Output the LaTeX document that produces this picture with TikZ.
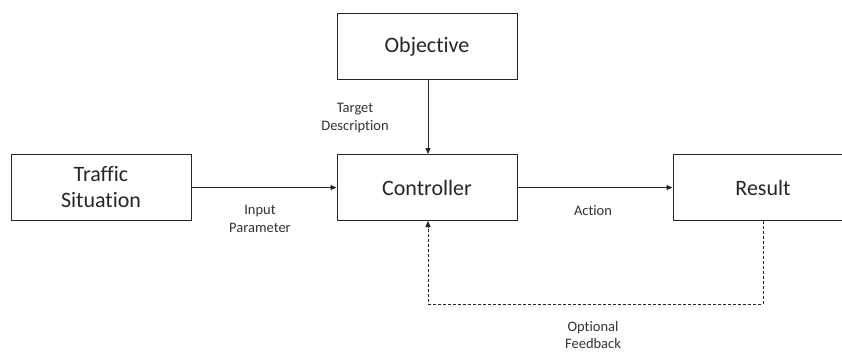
\documentclass[tikz,border=0pt]{standalone}
\usepackage{fontspec}
\setmainfont{Carlito}[Ligatures={NoCommon}]
\usetikzlibrary{arrows.meta}
\begin{document}
\begin{tikzpicture}[x=1pt,y=-1pt,
  blk/.style={draw=black!85, line width=1pt, minimum width=180pt, minimum height=66pt, inner sep=0pt, font=\fontsize{22}{26}\selectfont, text=black!85, align=center},
  lbl/.style={font=\fontsize{14.5}{17.5}\selectfont, text=black!80, align=center},
  conn/.style={draw=black!85, line width=0.9pt, -{Triangle[length=6pt,width=5pt]}},
  fb/.style={conn, dash pattern=on 3pt off 2pt}]
\useasboundingbox (0,0) rectangle (842,351);
\fill[white] (0,0) rectangle (842,351);
\begin{scope}
\clip (0,0) rectangle (842,351);
\node[blk] (traffic) at (101,187.5) {Traffic\\Situation};
\node[blk] (objective) at (427,46.5) {Objective};
\node[blk] (controller) at (427,187.5) {Controller};
\node[blk] (result) at (763,187.5) {Result};
\coordinate (fbr) at (763,304);
\coordinate (fbl) at (428,304);
\draw[conn] (traffic.east) -- (controller.west);
\draw[conn] (objective.south -| 428,0) -- (controller.north -| 428,0);
\draw[conn] (controller.east) -- (result.west);
\draw[fb] (result.south) -- (fbr) -- (fbl) -- (controller.south -| fbl);
\node[lbl] (tdesc) at (355,118) {Target\\Description};
\node[lbl] (input) at (260,219) {Input\\Parameter};
\node[lbl] (action) at (593,211) {Action};
\node[lbl] (optfb) at (593,335) {Optional\\Feedback};
\end{scope}
\end{tikzpicture}
\end{document}
